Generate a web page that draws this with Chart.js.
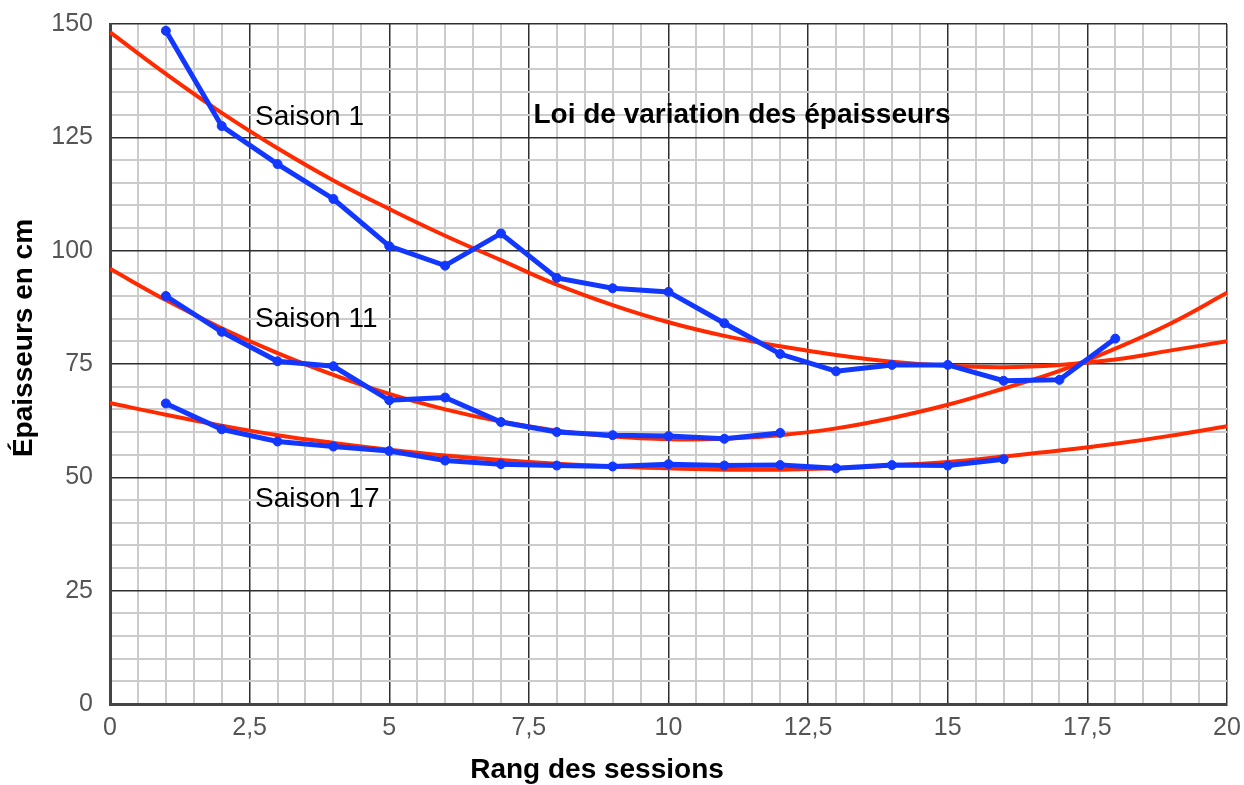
<!DOCTYPE html>
<html>
<head>
<meta charset="utf-8">
<script src="https://cdn.jsdelivr.net/npm/chart.js@4/dist/chart.umd.min.js"></script>
<style>
  html, body { margin: 0; padding: 0; background: #fff; }
  #wrap { width: 1244px; height: 785px; }
</style>
</head>
<body>
<div id="wrap"><canvas id="chart"></canvas></div>
<script>
const sessions = [1, 2, 3, 4, 5, 6, 7, 8, 9, 10, 11, 12, 13, 14, 15, 16, 17, 18];
const saison1 = [148.5, 127.5, 119.1, 111.4, 101.0, 96.7, 103.8, 94.0, 91.7, 90.9, 84.0, 77.2, 73.4, 74.8, 74.8, 71.3, 71.5, 80.6];
const saison11 = [90.0, 82.1, 75.6, 74.5, 67.0, 67.6, 62.2, 60.0, 59.3, 59.1, 58.5, 59.8];
const saison17 = [66.3, 60.6, 57.9, 56.8, 55.8, 53.7, 52.9, 52.6, 52.4, 52.9, 52.6, 52.7, 52.0, 52.7, 52.6, 54.0];

// courbes de tendance
const trendX = [0, 1, 2, 3, 4, 5, 6, 7, 8, 9, 10, 11, 12, 13, 14, 15, 16, 17, 18, 19, 20];
const trend1 = [148.2, 139.0, 130.4, 122.6, 115.5, 109.2, 103.3, 97.9, 92.5, 88.0, 84.2, 81.2, 78.9, 77.0, 75.5, 74.6, 74.3, 74.8, 76.0, 78.0, 80.0];
const trend11 = [96.0, 89.1, 82.9, 77.4, 72.6, 68.4, 65.0, 62.3, 60.3, 59.0, 58.4, 58.5, 59.3, 60.8, 63.1, 66.0, 69.6, 73.5, 78.4, 84.0, 90.7];
const trend17 = [66.4, 63.8, 61.4, 59.3, 57.6, 56.1, 54.8, 53.8, 53.0, 52.4, 52.0, 51.7, 51.7, 52.0, 52.6, 53.4, 54.6, 55.9, 57.4, 59.2, 61.3];

const xMajor = [0, 2.5, 5, 7.5, 10, 12.5, 15, 17.5, 20];
const yMajor = [0, 25, 50, 75, 100, 125, 150];

const labels = [
  { text: "Saison 1", x: 255, y: 125, bold: false, align: "left" },
  { text: "Saison 11", x: 255, y: 327, bold: false, align: "left" },
  { text: "Saison 17", x: 255, y: 507, bold: false, align: "left" },
  { text: "Loi de variation des épaisseurs", x: 742, y: 123, bold: true, align: "center" },
  { text: "Rang des sessions", x: 597, y: 778, bold: true, align: "center" },
];

const BLUE = "#1237ff";
const RED = "#ff2a00";
const FONT = "'Liberation Sans', Arial, Helvetica, sans-serif";
Chart.defaults.font.family = FONT;

const pts = (xs, ys) => ys.map((y, i) => ({ x: xs[i], y }));
const isMajor = (v, list) => list.some((m) => Math.abs(m - v) < 1e-6);

function blueSet(data) {
  return {
    data: pts(sessions, data),
    borderColor: BLUE,
    backgroundColor: BLUE,
    borderWidth: 5,
    pointRadius: 4.5,
    pointBorderWidth: 1,
    tension: 0,
    order: 1,
  };
}

function redSet(data) {
  return {
    data: pts(trendX, data),
    borderColor: RED,
    borderWidth: 4,
    pointRadius: 0,
    tension: 0.4,
    order: 2,
  };
}

const textPlugin = {
  id: "texts",
  afterDraw(chart) {
    const ctx = chart.ctx;
    ctx.save();
    ctx.fillStyle = "#000";
    ctx.textBaseline = "alphabetic";
    labels.forEach((l) => {
      ctx.font = (l.bold ? "bold " : "") + "28px " + FONT;
      ctx.textAlign = l.align;
      ctx.fillText(l.text, l.x, l.y);
    });
    ctx.translate(32, 338);
    ctx.rotate(-Math.PI / 2);
    ctx.font = "bold 28px " + FONT;
    ctx.textAlign = "center";
    ctx.fillText("Épaisseurs en cm", 0, 0);
    ctx.restore();
  },
};

new Chart(document.getElementById("chart"), {
  type: "line",
  data: {
    datasets: [
      blueSet(saison1),
      blueSet(saison11),
      blueSet(saison17),
      redSet(trend1),
      redSet(trend11),
      redSet(trend17),
    ],
  },
  options: {
    responsive: true,
    maintainAspectRatio: false,
    animation: false,
    layout: { padding: { top: 24, right: 17, left: 0, bottom: 0 } },
    plugins: { legend: { display: false }, tooltip: { enabled: false } },
    scales: {
      x: {
        type: "linear",
        min: 0,
        max: 20,
        afterFit: (s) => {
          s.height = 81;
          s.paddingLeft = 0;
          s.paddingRight = 0;
        },
        border: { color: "#444", width: 3 },
        grid: {
          drawTicks: false,
          color: (c) => (isMajor(c.tick.value, xMajor) ? "#2e2e2e" : "#cccccc"),
          lineWidth: (c) => (isMajor(c.tick.value, xMajor) ? 1.5 : 2),
        },
        ticks: {
          stepSize: 0.5,
          autoSkip: false,
          maxRotation: 0,
          padding: 9,
          color: "#555",
          font: { size: 25 },
          callback: (v) => (isMajor(v, xMajor) ? String(v).replace(".", ",") : ""),
        },
      },
      y: {
        min: 0,
        max: 150,
        afterFit: (s) => {
          s.width = 110;
          s.paddingTop = 0;
          s.paddingBottom = 0;
        },
        border: { color: "#444", width: 3 },
        grid: {
          drawTicks: false,
          color: (c) => (isMajor(c.tick.value, yMajor) ? "#2e2e2e" : "#cccccc"),
          lineWidth: (c) => (isMajor(c.tick.value, yMajor) ? 1.5 : 2),
        },
        ticks: {
          stepSize: 5,
          autoSkip: false,
          padding: 17,
          color: "#555",
          font: { size: 25 },
          callback: (v) => (isMajor(v, yMajor) ? String(v) : ""),
        },
      },
    },
  },
  plugins: [textPlugin],
});
</script>
</body>
</html>
